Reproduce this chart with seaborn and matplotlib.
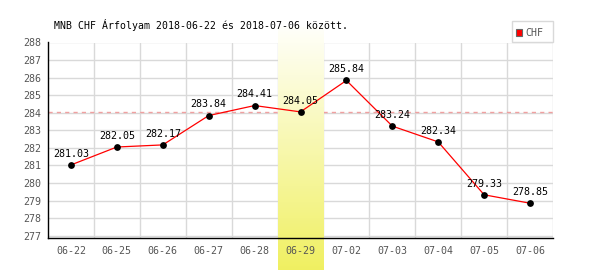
import matplotlib
matplotlib.use("Agg")
import matplotlib.pyplot as plt
import seaborn as sns
import numpy as np
import pandas as pd
from matplotlib.patches import Rectangle

dates = ["06-22", "06-25", "06-26", "06-27", "06-28", "06-29", "07-02", "07-03", "07-04", "07-05", "07-06"]
values = [281.03, 282.05, 282.17, 283.84, 284.41, 284.05, 285.84, 283.24, 282.34, 279.33, 278.85]
highlight = "06-29"
ref_level = 284.05
yticks = list(range(277, 289))

sns.set_theme(style="white")
plt.rcParams['font.family'] = ['DejaVu Sans Mono', 'DejaVu Sans']

df = pd.DataFrame({"date": dates, "value": values, "x": np.arange(len(dates))})

fig = plt.figure(figsize=(6, 2.7), dpi=100)
ax = fig.add_axes([48/600, 32/270, 505/600, 195.5/270])
ax.set_axisbelow(False)

ax.set_xlim(-0.5, len(dates) - 0.5)
ax.set_ylim(276.87, 288)

# grid
for y in yticks:
    ax.axhline(y, color="#d9d9d9", lw=1, zorder=1)
for i in range(len(dates)):
    ax.axvline(i + 0.5, color="#d9d9d9", lw=1, zorder=1)

ax.axhline(ref_level, color="#f0a0a0", lw=1, ls=(0, (3, 3)), zorder=1.2)

# highlight band with gradient (covers grid)
hi = dates.index(highlight)
grad = np.linspace(0, 1, 256)
top = np.array([1.0, 1.0, 0.98])
bot = np.array([0.94, 0.94, 0.38])
img = (top + (bot - top) * grad[:, None]).reshape(256, 1, 3)
ax.imshow(img, extent=[hi - 0.5, hi + 0.5, 275.0, 288.86], aspect="auto",
          origin="upper", zorder=1.5, clip_on=False)

sns.lineplot(data=df, x="x", y="value", ax=ax, color="red", lw=0.9, zorder=3, legend=False)
sns.scatterplot(data=df, x="x", y="value", ax=ax, color="black", s=24, zorder=4,
                edgecolor="black", linewidth=0, legend=False)

for xi, v in zip(df["x"], values):
    ax.annotate(f"{v:.2f}", (xi, v), xytext=(0, 4.5), textcoords="offset points",
                ha="center", va="bottom", fontsize=7.2, color="black", zorder=5)

ax.set_xticks(df["x"])
ax.set_xticklabels(dates)
ax.set_yticks(yticks)
ax.tick_params(axis="both", length=0, labelsize=7.2, labelcolor="#555555")
ax.tick_params(axis="x", pad=6)
ax.tick_params(axis="y", pad=4.5)
ax.set_xlabel("")
ax.set_ylabel("")

for s in ["top", "right"]:
    ax.spines[s].set_visible(False)
for s in ["left", "bottom"]:
    ax.spines[s].set_color("black")
    ax.spines[s].set_linewidth(1)
    ax.spines[s].set_zorder(6)

fig.text(54/600, 1 - 25/270, "MNB CHF Árfolyam 2018-06-22 és 2018-07-06 között.",
         fontsize=7.1, color="black", ha="left", va="center")

# legend box
fig.patches.append(Rectangle((512/600, 1 - 42/270), 41/600, 21/270, transform=fig.transFigure,
                             facecolor="white", edgecolor="#d9d9d9", lw=1))
fig.patches.append(Rectangle((516/600, 1 - 35.5/270), 6/600, 6/270, transform=fig.transFigure,
                             facecolor="red", edgecolor="#666666", lw=0.8))
fig.text(525/600, 1 - 32.5/270, "CHF", fontsize=7.2, color="#555555", ha="left", va="center")

fig.savefig("out.png", dpi=100)
